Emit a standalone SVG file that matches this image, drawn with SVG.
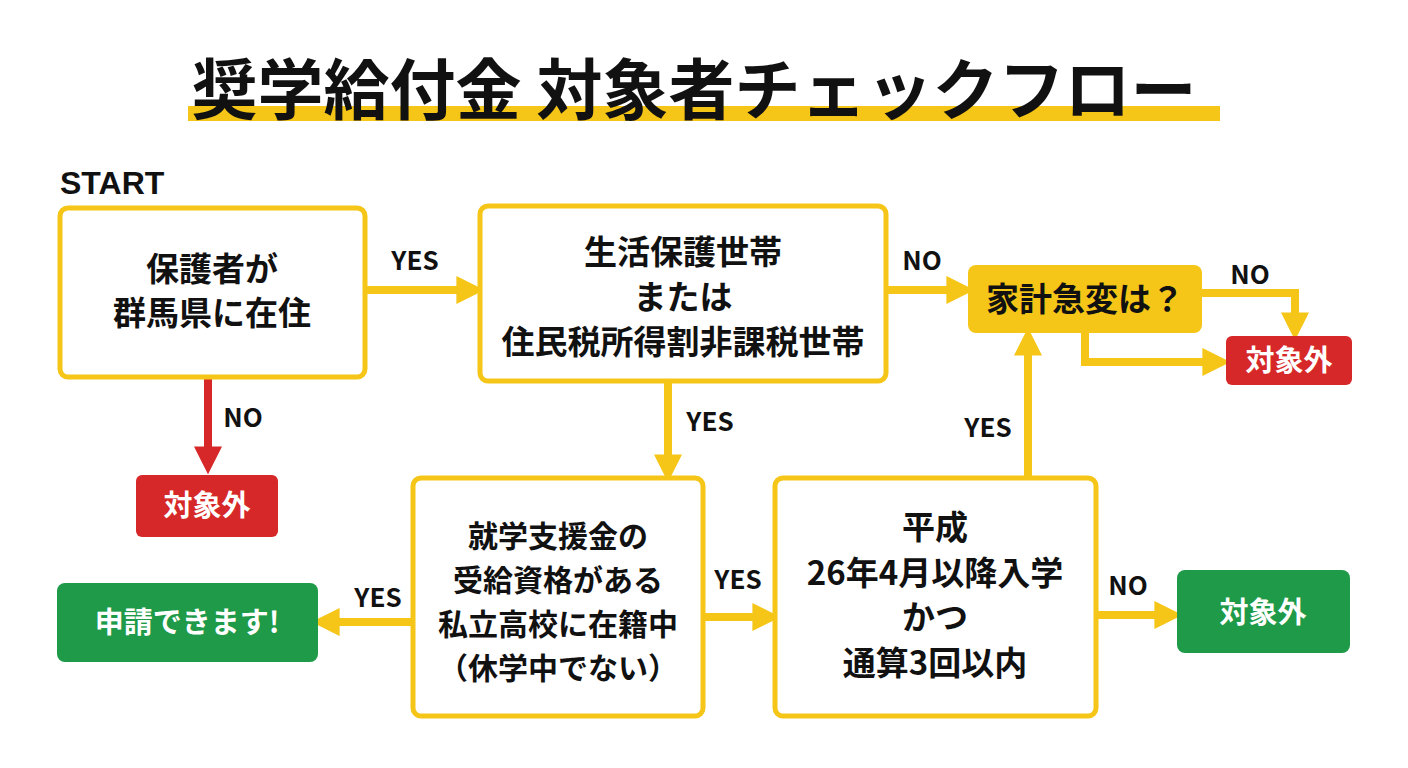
<svg xmlns="http://www.w3.org/2000/svg" width="1408" height="768" viewBox="0 0 1408 768">
<style>
text{font-family:"Noto Sans CJK JP","Noto Sans",sans-serif;font-weight:bold;fill:#111;text-anchor:middle}
.box{fill:#fff;stroke:#F5C518;stroke-width:5}
.t{font-size:33px}
.t4{font-size:30px}
.lbl{font-size:26px}
.wt{fill:#fff;font-size:29px}
.ln{fill:none;stroke:#F5C518;stroke-width:8}
.rl{fill:none;stroke:#D62828;stroke-width:8}
</style>
<defs>
<marker id="ay" viewBox="0 0 10 10" refX="2" refY="5" markerWidth="3.5" markerHeight="3.5" orient="auto" markerUnits="strokeWidth"><path d="M0,0L10,5L0,10z" fill="#F5C518"/></marker>
<marker id="ar" viewBox="0 0 10 10" refX="2" refY="5" markerWidth="3.5" markerHeight="3.5" orient="auto" markerUnits="strokeWidth"><path d="M0,0L10,5L0,10z" fill="#D62828"/></marker>
</defs>
<rect width="1408" height="768" fill="#fff"/>
<rect x="188" y="106" width="1032" height="15" fill="#F5C518"/>
<text x="694" y="114" font-size="66">奨学給付金 対象者チェックフロー</text>
<text x="60" y="194" font-size="32" style="text-anchor:start;font-family:'Liberation Sans',sans-serif">START</text>
<g id="connectors">
<path class="ln" d="M367,290H462" marker-end="url(#ay)"/>
<path class="ln" d="M888,290H952" marker-end="url(#ay)"/>
<path class="ln" d="M1202,293H1295V318" marker-end="url(#ay)"/>
<path class="ln" d="M1085,333V362H1208" marker-end="url(#ay)"/>
<path class="rl" d="M208,378V452" marker-end="url(#ar)"/>
<path class="ln" d="M668,383V460" marker-end="url(#ay)"/>
<path class="ln" d="M413,622H334" marker-end="url(#ay)"/>
<path class="ln" d="M703,617H758" marker-end="url(#ay)"/>
<path class="ln" d="M1028,476V350" marker-end="url(#ay)"/>
<path class="ln" d="M1096,615H1160" marker-end="url(#ay)"/>
<text class="lbl" x="415" y="270">YES</text>
<text class="lbl" x="922" y="270">NO</text>
<text class="lbl" x="1250" y="284">NO</text>
<text class="lbl" x="243" y="427">NO</text>
<text class="lbl" x="710" y="431">YES</text>
<text class="lbl" x="378" y="607">YES</text>
<text class="lbl" x="738" y="589">YES</text>
<text class="lbl" x="988" y="437">YES</text>
<text class="lbl" x="1128" y="595">NO</text>
</g>
<g id="n1"><rect class="box" x="60" y="208" width="305" height="169" rx="8"/><text class="t" x="212" y="281">保護者が</text><text class="t" x="212" y="325">群馬県に在住</text></g>
<g id="n2"><rect class="box" x="480" y="206" width="406" height="175" rx="8"/><text class="t" x="683" y="264">生活保護世帯</text><text class="t" x="683" y="309">または</text><text class="t" x="683" y="354">住民税所得割非課税世帯</text></g>
<g id="n3"><rect x="968" y="265" width="234" height="68" rx="8" fill="#F5C518"/><text class="t" x="1085" y="311" font-size="31">家計急変は？</text></g>
<g id="n4"><rect x="1226" y="336" width="126" height="49" rx="6" fill="#D62828"/><text class="wt" x="1289" y="371">対象外</text></g>
<g id="n5"><rect x="136" y="475" width="142" height="62" rx="6" fill="#D62828"/><text class="wt" x="207" y="516">対象外</text></g>
<g id="n6"><rect class="box" x="413" y="478" width="290" height="238" rx="8"/><text class="t4" x="558" y="547">就学支援金の</text><text class="t4" x="558" y="591">受給資格がある</text><text class="t4" x="558" y="635">私立高校に在籍中</text><text class="t4" x="558" y="679">（休学中でない）</text></g>
<g id="n7"><rect x="57" y="583" width="261" height="79" rx="8" fill="#1E9A48"/><text class="wt" x="187" y="633">申請できます!</text></g>
<g id="n8"><rect class="box" x="775" y="478" width="321" height="238" rx="8"/><text class="t" x="935" y="539">平成</text><text class="t" x="935" y="585">26年4月以降入学</text><text class="t" x="935" y="629">かつ</text><text class="t" x="935" y="675">通算3回以内</text></g>
<g id="n9"><rect x="1177" y="570" width="173" height="83" rx="8" fill="#1E9A48"/><text class="wt" x="1263" y="623">対象外</text></g>
</svg>
